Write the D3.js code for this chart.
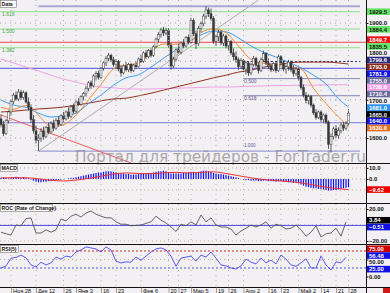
<!DOCTYPE html>
<html lang="ru">
<head>
<meta charset="UTF-8">
<title>Data</title>
<script src="https://d3js.org/d3.v7.min.js"></script>
<style>
    body { margin: 0; background: #f2f0f3; }
    svg { display: block; font-family: "Liberation Sans", Arial, sans-serif; }
</style>
</head>
<body>
<div id="chart"></div>
<script>
// ---- data ----
// daily bars [open, high, low, close]
const ohlc = [
    [1650,1662,1628,1635],[1635,1645,1605,1612],[1612,1650,1608,1645],[1645,1672,1638,1668],[1668,1700,1660,1695],
    [1695,1718,1688,1712],[1712,1722,1698,1702],[1702,1728,1696,1720],[1720,1726,1700,1706],[1706,1724,1700,1718],
    [1718,1722,1690,1694],[1694,1706,1672,1680],[1680,1688,1640,1648],[1648,1660,1612,1620],[1620,1632,1586,1594],
    [1594,1610,1566,1600],[1600,1626,1590,1618],[1618,1630,1596,1604],[1604,1632,1600,1628],[1628,1640,1610,1616],
    [1616,1644,1612,1638],[1638,1648,1618,1626],[1626,1652,1622,1646],[1646,1656,1630,1636],[1636,1662,1632,1658],
    [1658,1668,1642,1650],[1650,1672,1646,1668],[1668,1680,1650,1656],[1656,1686,1652,1682],[1682,1690,1664,1670],
    [1670,1698,1666,1694],[1694,1704,1684,1688],[1688,1712,1684,1708],[1708,1720,1698,1716],[1716,1736,1708,1730],
    [1730,1748,1722,1744],[1744,1750,1728,1736],[1736,1766,1732,1762],[1762,1774,1750,1768],[1768,1776,1752,1758],
    [1758,1786,1754,1782],[1782,1800,1776,1796],[1796,1814,1788,1808],[1808,1822,1800,1816],[1816,1820,1798,1804],
    [1804,1812,1786,1792],[1792,1806,1780,1800],[1800,1804,1774,1780],[1780,1790,1760,1770],[1770,1792,1766,1788],
    [1788,1798,1774,1778],[1778,1796,1772,1792],[1792,1796,1770,1776],[1776,1794,1772,1790],[1790,1800,1782,1786],
    [1786,1810,1784,1806],[1806,1818,1796,1800],[1800,1826,1796,1822],[1822,1830,1806,1812],[1812,1832,1808,1828],
    [1828,1834,1810,1816],[1816,1842,1812,1838],[1838,1862,1834,1858],[1858,1876,1850,1870],[1870,1888,1862,1882],
    [1882,1890,1866,1874],[1874,1888,1868,1880],[1880,1886,1836,1842],[1842,1848,1778,1788],[1788,1812,1782,1806],
    [1806,1834,1800,1830],[1830,1846,1820,1824],[1824,1852,1818,1848],[1848,1858,1834,1840],[1840,1866,1836,1862],
    [1862,1870,1844,1850],[1850,1914,1846,1906],[1906,1912,1866,1872],[1872,1880,1832,1846],[1846,1892,1840,1886],
    [1886,1904,1876,1898],[1898,1924,1892,1918],[1918,1944,1910,1934],[1934,1940,1916,1924],[1924,1938,1906,1912],
    [1912,1918,1846,1852],[1852,1870,1840,1864],[1864,1882,1852,1876],[1876,1880,1842,1848],[1848,1872,1840,1866],
    [1866,1870,1834,1840],[1840,1858,1830,1852],[1852,1856,1816,1822],[1822,1834,1802,1812],[1812,1826,1796,1804],
    [1804,1810,1778,1786],[1786,1808,1780,1802],[1802,1806,1772,1780],[1780,1800,1766,1796],[1796,1800,1762,1770],
    [1770,1796,1764,1792],[1792,1814,1786,1808],[1808,1812,1784,1790],[1790,1798,1768,1776],[1776,1810,1772,1804],
    [1804,1828,1798,1820],[1820,1824,1790,1796],[1796,1808,1780,1786],[1786,1796,1772,1778],[1778,1798,1774,1794],
    [1794,1800,1770,1776],[1776,1818,1772,1812],[1812,1816,1790,1796],[1796,1802,1774,1780],[1780,1792,1768,1786],
    [1786,1804,1776,1798],[1798,1802,1772,1778],[1778,1790,1760,1768],[1768,1786,1762,1780],[1780,1784,1752,1758],
    [1758,1762,1726,1732],[1732,1740,1706,1712],[1712,1720,1690,1698],[1698,1714,1688,1708],[1708,1712,1680,1686],
    [1686,1690,1660,1666],[1666,1676,1648,1654],[1654,1672,1650,1668],[1668,1672,1642,1648],[1648,1664,1640,1660],
    [1660,1664,1636,1642],[1642,1646,1572,1584],[1584,1612,1562,1604],[1604,1630,1596,1624],[1624,1634,1600,1606],
    [1606,1628,1598,1620],[1620,1640,1612,1634],[1634,1642,1618,1626],[1626,1644,1620,1638],[1638,1676,1634,1665]
];

// date axis (bar index of each label)
const dateTickBars = [4, 14, 25, 30, 40, 46, 56, 67, 71, 76, 86, 91, 97, 107, 112, 119, 128, 134, 139];
const dateTickLabels = ["Ноя 28", "Дек 12", "26", "Янв 3", "16", "23", "Фев 6", "20", "27", "Мар 5",
                        "19", "26", "Апр 2", "16", "23", "Май 2", "14", "21", "28"];
const priceTicks = [1600, 1700, 1800, 1900];

// moving averages, read every 5 bars
const maBars = [0, 5, 10, 15, 20, 25, 30, 35, 40, 45, 50, 55, 60, 65, 70, 75, 80, 85, 90, 95, 100, 105, 110, 115, 120, 125, 130, 135, 139];
const maOrange = [1680, 1675, 1685, 1660, 1630, 1635, 1660, 1700, 1740, 1780, 1790, 1795, 1825, 1845, 1845,
                  1850, 1875, 1885, 1875, 1840, 1805, 1795, 1790, 1785, 1780, 1730, 1690, 1655, 1630];
const maBlue = [1699, 1686, 1680, 1665, 1655, 1658, 1665, 1690, 1712, 1738, 1757, 1765, 1785, 1808, 1830,
                1850, 1869, 1879, 1877, 1861, 1840, 1824, 1811, 1798, 1783, 1764, 1741, 1702, 1681];
const maBrown = [1668, 1670, 1673, 1676, 1678, 1681, 1686, 1691, 1697, 1702, 1704, 1710, 1717, 1725, 1733,
                 1741, 1749, 1757, 1764, 1772, 1777, 1785, 1790, 1796, 1798, 1798, 1798, 1796, 1793];
const maPink = [1806, 1796, 1785, 1775, 1764, 1754, 1746, 1738, 1733, 1731, 1728, 1728, 1728, 1729, 1730,
                1731, 1732, 1733, 1733, 1734, 1735, 1736, 1737, 1737, 1738, 1738, 1739, 1739, 1739];

// drawn objects
const fibHigh = 1944, fibLow = 1566, fibFromBar = 15;
const fibInner = [0.382, 0.5, 0.618];
const fibExtValues = [1929.5, 1884.4, 1835.5];
const fibExtNames = ["1.618", "1.500", "1.382"];
const redLevel = 1849.7;
const blueLevels = [1781.9, 1640.0];
const greyTrend = [[15, 1566], [103, 1960]];
const redTrend = [[0, 1660], [52, 1535]];

// MACD (histogram per bar, signal every 5 bars)
const macdHist = [1, 1.5, 1, 0.5, 1, 1.5, 2, 1.5, 1, 1.5, 1, 0.5,
    -0.5, -1.5, -2.5, -3, -3, -2.5, -2.5, -2, -2,
    -1.5, -1, -1, -0.5, 0, 0, 0.5, 1, 1, 1.5, 2, 2.5,
    3, 3.5, 4, 4.5, 5, 5.5, 6, 6, 6.5, 7, 7, 7, 6.5, 6, 5.5, 5, 5, 4.5, 4.5, 4,
    4, 4, 4.5, 4.5, 5, 5, 5.5, 5.5, 6, 6.5, 7, 7, 7.5, 7, 6, 5, 5, 5, 5, 5, 5.5, 5.5, 6, 6.5, 6.5, 6, 6.5, 7, 7.5, 7.5, 7, 6.5, 5.5,
    5, 4.5, 4.5, 4, 3.5, 3, 2.5, 2, 1.5, 1, 0,
    -0.5, -1, -1, -1.5, -1.5, -1.5, -2, -2, -1.5, -1.5, -2, -2, -2, -2.5, -2, -2, -2.5, -2.5, -3,
    -3, -3.5, -3.5, -4, -5, -6, -7, -7.5, -8, -8.5, -8.5, -9, -9, -9.5, -10, -10.5, -10.5, -10, -10, -9.5, -9, -8.5, -8, -7.5];
const macdSignal = [1, 1.2, 1.1, 0.2, -1.2, -1.8, -1, 0.5, 2.5, 4.5, 5.5, 5, 4.8, 5.5, 6, 5.5, 6, 6.5, 5, 3,
                    1, -0.5, -1.5, -2.3, -3.5, -5.5, -7.5, -8.8, -9.62];

// ROC and RSI, read every 2 bars
const rocValues = [-9, -11, -12.5, 0, -1, 8, 8.75, -10, -10, -6,
    -9, -6, 7.5, 5, 11, 13.5, 10, 15, 17.5, 13.5,
    11, 9, 9, 4, 1, 1, -1, -0.5, 0, 2,
    4, 11, 6, 2.5, -2.5, -8, 1, -1, 4, 0,
    12.5, 4, 9, 0, -2.5, -2.5, -5, -12.5, -7.5, -4,
    0, -2.5, 0, 4, -4, 1, -1, -5, -4, 0,
    -6, -14, -9, -1, -15, -11, -10, -4, -14, 3.84];
const rocLevel = -0.51;
const rsiValues = [25, 31, 54, 56, 63, 55, 34, 28, 42, 34,
    40, 57, 51, 60, 57, 72, 78, 87, 84, 81,
    72, 87, 78, 45, 40, 43, 42, 57, 48, 60,
    72, 81, 84, 78, 60, 30, 54, 57, 60, 45,
    63, 57, 72, 54, 34, 31, 25, 22, 31, 51,
    42, 37, 54, 40, 48, 37, 63, 51, 34, 30,
    40, 52, 25, 25, 60, 34, 19, 43, 40, 56.48];
const rsiLevels = [75, 25];

// ---- layout ----
const W = 390, H = 293, plotR = 366;
const panels = {
    main: [0, 163], macd: [164, 203], roc: [204, 244], rsi: [245, 287]
};

const svg = d3.select('#chart').append('svg')
    .attr('width', W).attr('height', H);
svg.append('rect').attr('width', W).attr('height', H).attr('fill', '#f2f0f3');

const x = d3.scaleLinear().domain([0, 139]).range([1, 348.5]);
const yP = d3.scaleLinear().domain([1535, 1960]).range([163, 0]);
const yM = d3.scaleLinear().domain([-20.9, 13.6]).range([202, 164]);
const yR = d3.scaleLinear().domain([-23.75, 26.25]).range([244, 204]);
const yS = d3.scaleLinear().domain([-30.9, 92.6]).range([287, 245]);

const defs = svg.append('defs');
Object.entries(panels).forEach(([k, p]) => {
    defs.append('clipPath').attr('id', 'c-' + k)
        .append('rect').attr('x', 0).attr('y', p[0]).attr('width', plotR).attr('height', p[1] - p[0]);
});
const layer = k => svg.append('g').attr('clip-path', 'url(#c-' + k + ')');

function hline(g, y, x0, x1, color, w, dash) {
    g.append('line').attr('x1', x0).attr('x2', x1).attr('y1', y).attr('y2', y)
        .attr('stroke', color).attr('stroke-width', w || 1)
        .attr('stroke-dasharray', dash || null);
}

// ---- main price panel ----
const gMain = layer('main');

// grid
dateTickBars.forEach(b => {
    Object.keys(panels).forEach(k => {
        const p = panels[k];
        svg.append('line').attr('x1', x(b)).attr('x2', x(b)).attr('y1', p[0]).attr('y2', p[1])
            .attr('stroke', k === 'main' ? '#a9a4a6' : '#c4ad8c').attr('stroke-dasharray', '1,4');
    });
});
priceTicks.forEach(v => hline(gMain, yP(v), 0, plotR, '#a9a4a6', 1, '1,4'));

// fib extension (green), red and blue levels
fibExtValues.forEach((v, i) => {
    hline(gMain, yP(v), 0, 360, '#8fe08f', 1);
    gMain.append('text').attr('x', 2).attr('y', yP(v) + 4.5).text(fibExtNames[i])
        .attr('font-size', 5).attr('fill', '#3caa3c');
});
hline(gMain, yP(redLevel), 0, plotR, '#ee4a4a', 1);
hline(gMain, yP(blueLevels[0]), 0, plotR, '#5050e0', 1);
hline(gMain, yP(blueLevels[1]), 0, plotR, '#7a7ad8', 1);

// fib retracement
const fibVal = r => fibHigh - r * (fibHigh - fibLow);
hline(gMain, yP(fibHigh), x(fibFromBar), 360, '#a8a8d8', 2);
hline(gMain, yP(fibLow), x(fibFromBar), 360, '#8a8ad0', 1);
gMain.append('text').attr('x', 244).attr('y', yP(fibLow) - 4).text('1.000')
    .attr('font-size', 4.6).attr('fill', '#5a5aa8');
fibInner.forEach(r => {
    hline(gMain, yP(fibVal(r)), 243, 360, r === 0.382 ? '#30307a' : '#8585b5', 1, r === 0.382 ? '2,2' : null);
    if (r !== 0.382) {
        gMain.append('text').attr('x', 244).attr('y', yP(fibVal(r)) + 4.5).text(r.toFixed(3))
            .attr('font-size', 5).attr('fill', '#5a5a8a');
    }
});

// trend lines
[[greyTrend, '#acacac'], [redTrend, '#ee5a5a']].forEach(([t, c]) => {
    gMain.append('line')
        .attr('x1', x(t[0][0])).attr('y1', yP(t[0][1]))
        .attr('x2', x(t[1][0])).attr('y2', yP(t[1][1]))
        .attr('stroke', c).attr('stroke-width', 1);
});

// moving averages
const maLine = d3.line().x((d, i) => x(maBars[i])).y(d => yP(d)).curve(d3.curveMonotoneX);
[[maPink, '#f0a2e6'], [maBrown, '#963020'], [maBlue, '#3c9cf0'], [maOrange, '#ee8a30']].forEach(([s, c]) => {
    gMain.append('path').attr('d', maLine(s)).attr('fill', 'none').attr('stroke', c).attr('stroke-width', 1);
});

// candles
const cg = gMain.append('g');
cg.selectAll('line').data(ohlc).enter().append('line')
    .attr('x1', (d, i) => x(i)).attr('x2', (d, i) => x(i))
    .attr('y1', d => yP(d[1])).attr('y2', d => yP(d[2]))
    .attr('stroke', '#333').attr('stroke-width', 0.8);
cg.selectAll('rect').data(ohlc).enter().append('rect')
    .attr('x', (d, i) => x(i) - 1).attr('width', 2)
    .attr('y', d => yP(Math.max(d[0], d[3])))
    .attr('height', d => Math.max(0.6, Math.abs(yP(d[0]) - yP(d[3]))))
    .attr('fill', d => d[3] >= d[0] ? '#ffffff' : '#3a3a3a')
    .attr('stroke', '#333').attr('stroke-width', 0.5);

// watermark
svg.append('text').attr('x', 75).attr('y', 162)
    .attr('font-family', '"DejaVu Sans", sans-serif').attr('font-size', 16)
    .attr('textLength', 291).attr('lengthAdjust', 'spacingAndGlyphs')
    .attr('fill', '#8f8f8f').attr('fill-opacity', 0.75)
    .text('Портал для трейдеров - ForTrader.ru');

// ---- MACD ----
const gM = layer('macd');
[10, 0, -10].forEach(v => hline(gM, yM(v), 0, plotR, '#c4ad8c', 1, '1,3'));
gM.selectAll('rect').data(macdHist).enter().append('rect')
    .attr('x', (d, i) => x(i) - 0.6).attr('width', 1.2)
    .attr('y', d => yM(Math.max(0, d)))
    .attr('height', d => Math.abs(yM(d) - yM(0)))
    .attr('fill', '#1010f0');
gM.append('path')
    .attr('d', d3.line().x((d, i) => x(maBars[i])).y(d => yM(d)).curve(d3.curveMonotoneX)(macdSignal))
    .attr('fill', 'none').attr('stroke', '#ee3030').attr('stroke-width', 1);

// ---- ROC ----
const gR = layer('roc');
[20, 0, -20].forEach(v => hline(gR, yR(v), 0, plotR, '#c4ad8c', 1, '1,3'));
hline(gR, yR(rocLevel), 0, plotR, '#4a4ae0', 1);
gR.append('path')
    .attr('d', d3.line().x((d, i) => x(i * 2)).y(d => yR(d))(rocValues))
    .attr('fill', 'none').attr('stroke', '#555').attr('stroke-width', 0.9);

// ---- RSI ----
const gS = layer('rsi');
hline(gS, yS(50), 0, plotR, '#c4ad8c', 1, '1,3');
hline(gS, yS(rsiLevels[0]), 0, plotR, '#d03030', 1, '2,2');
hline(gS, yS(rsiLevels[1]), 0, plotR, '#5050d0', 1, '2,2');
gS.append('path')
    .attr('d', d3.line().x((d, i) => x(i * 2)).y(d => yS(d))(rsiValues))
    .attr('fill', 'none').attr('stroke', '#4a4af0').attr('stroke-width', 0.9);

// ---- frame ----
[163.5, 203.5, 244.5, 287.5].forEach(y => hline(svg, y, 0, W, '#111', 1));
svg.append('line').attr('x1', plotR + 0.5).attr('x2', plotR + 0.5).attr('y1', 0).attr('y2', H)
    .attr('stroke', '#111').attr('stroke-width', 1);

// panel titles
[['Data', 1, 16], ['MACD', 165, 17], ['ROC (Rate of Change)', 205, 52], ['RSI(5)', 246, 18]].forEach(([t, y, w]) => {
    svg.append('rect').attr('x', 0.5).attr('y', y - 0.5).attr('width', w).attr('height', 7)
        .attr('fill', '#ffffff').attr('stroke', '#777').attr('stroke-width', 0.6);
    svg.append('text').attr('x', 1.5).attr('y', y + 5).text(t)
        .attr('font-size', 5.2).attr('font-weight', 'bold').attr('fill', '#111');
});

// ---- right axis: tick marks from d3 axes, labels + value tags spread so they don't collide ----
function axisAt(scale, ticks) {
    const g = svg.append('g').attr('transform', 'translate(' + (plotR + 0.5) + ',0)')
        .call(d3.axisRight(scale).tickValues(ticks).tickFormat('').tickSize(2));
    g.select('.domain').remove();
    g.selectAll('line').attr('stroke', '#111');
}
axisAt(yP, priceTicks);
axisAt(yM, [10, 0]);
axisAt(yR, [20, -20]);
axisAt(yS, [50, 0]);

const GAP = 6.8;
function spread(items) {
    items.sort((a, b) => a.y - b.y);
    let cl = items.map(d => ({ items: [d], y0: d.y }));
    let merged = true;
    while (merged) {
        merged = false;
        for (let i = 1; i < cl.length; i++) {
            const a = cl[i - 1], b = cl[i];
            if (a.y0 + a.items.length * GAP > b.y0 + 1e-6) {
                const all = a.items.concat(b.items);
                const m = d3.mean(all, d => d.y);
                cl.splice(i - 1, 2, { items: all, y0: m - (all.length - 1) * GAP / 2 });
                merged = true;
                break;
            }
        }
    }
    cl.forEach(c => c.items.forEach((d, k) => { d.ly = c.y0 + k * GAP; }));
    items.forEach(d => {
        if (d.bg) {
            svg.append('rect').attr('x', plotR + 1).attr('y', d.ly - 3.3).attr('width', W - plotR - 1)
                .attr('height', 6.6).attr('fill', d.bg);
        }
        svg.append('text').attr('x', plotR + 3).attr('y', d.ly + 2.1).text(d.t)
            .attr('font-size', 5.9).attr('font-weight', 'bold').attr('fill', d.fg || '#111');
    });
}
const last = a => a[a.length - 1];
const f1 = d3.format('.1f'), f2 = d3.format('.2f');

spread([
    ...priceTicks.map(v => ({ y: yP(v), t: f1(v) })),
    ...fibExtValues.map(v => ({ y: yP(v), t: f1(v), bg: '#66e066' })),
    { y: yP(redLevel), t: f1(redLevel), bg: '#ee1010', fg: '#fff' },
    { y: yP(blueLevels[0]), t: f1(blueLevels[0]), bg: '#1010e0', fg: '#fff' },
    { y: yP(last(maBrown)), t: f1(last(maBrown)), bg: '#8a2a1a', fg: '#fff' },
    { y: yP(fibVal(0.382)), t: f1(fibVal(0.382)), bg: '#2a2a78', fg: '#fff' },
    { y: yP(fibVal(0.5)), t: f1(fibVal(0.5)), bg: '#6a6a9c', fg: '#fff' },
    { y: yP(last(maPink)), t: f1(last(maPink)), bg: '#f0a0e8', fg: '#fff' },
    { y: yP(fibVal(0.618)), t: f1(fibVal(0.618)), bg: '#6a6a9c', fg: '#fff' },
    { y: yP(last(maBlue)), t: f1(last(maBlue)), bg: '#2a90f0', fg: '#fff' },
    { y: yP(last(ohlc)[3]), t: f1(last(ohlc)[3]), bg: '#000', fg: '#fff' },
    { y: yP(last(maOrange)), t: f1(last(maOrange)), bg: '#e07020', fg: '#fff' },
    { y: yP(blueLevels[1]), t: f1(blueLevels[1]), bg: '#1010e0', fg: '#fff' }
]);
spread([
    { y: yM(10), t: f1(10) }, { y: yM(0), t: f1(0) },
    { y: yM(last(macdSignal)), t: f2(last(macdSignal)), bg: '#ee0000', fg: '#fff' }
]);
spread([
    { y: yR(20), t: f2(20) }, { y: yR(-20), t: f2(-20) },
    { y: yR(last(rocValues)), t: f2(last(rocValues)), bg: '#000', fg: '#fff' },
    { y: yR(rocLevel), t: f2(rocLevel), bg: '#1010e0', fg: '#fff' }
]);
spread([
    { y: yS(50), t: f2(50) }, { y: yS(0), t: f2(0) },
    { y: yS(rsiLevels[0]), t: f2(rsiLevels[0]), bg: '#cc0000', fg: '#fff' },
    { y: yS(last(rsiValues)), t: f2(last(rsiValues)), bg: '#1010e0', fg: '#fff' },
    { y: yS(rsiLevels[1]), t: f2(rsiLevels[1]), bg: '#1010e0', fg: '#fff' }
]);

// ---- date axis ----
const gx = svg.append('g').attr('transform', 'translate(0,287.5)')
    .call(d3.axisBottom(x).tickValues(dateTickBars).tickFormat((d, i) => dateTickLabels[i]).tickSize(6));
gx.select('.domain').remove();
gx.selectAll('line').attr('stroke', '#888').attr('stroke-width', 0.8);
gx.selectAll('text').attr('text-anchor', 'start').attr('x', 1.5).attr('y', 5).attr('dy', 0)
    .attr('font-size', 5.6).attr('font-family', '"Liberation Sans", Arial, sans-serif').attr('fill', '#111');

svg.append('rect').attr('x', 383).attr('y', 288).attr('width', 7).attr('height', 5).attr('fill', '#d01818');
</script>
</body>
</html>
